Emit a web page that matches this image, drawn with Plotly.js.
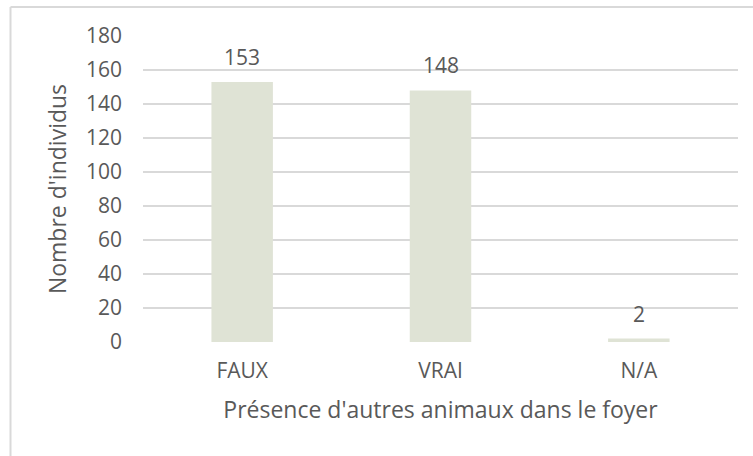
<!DOCTYPE html>
<html>
<head>
<meta charset="utf-8">
<script src="https://cdn.plot.ly/plotly-3.0.1.min.js"></script>
<style>
  html, body { margin: 0; padding: 0; background: #fff; }
  #chart { width: 753px; height: 456px; }
</style>
</head>
<body>
<div id="chart"></div>
<script>
const categories = ["FAUX", "VRAI", "N/A"];
const values = [153, 148, 2];
const yTickValues = [0, 20, 40, 60, 80, 100, 120, 140, 160, 180];

const textColor = "#595959";
const fontFamily = "Open Sans, Lato, sans-serif";

const trace = {
  type: "bar",
  x: categories,
  y: values,
  marker: { color: "#dfe3d5" },
  hoverinfo: "x+y"
};

const annotations = categories.map((c, i) => ({
  x: c,
  y: values[i],
  xref: "x",
  yref: "y",
  text: String(values[i]),
  showarrow: false,
  yanchor: "bottom",
  yshift: 9,
  font: { family: fontFamily, size: 21, color: textColor }
}));

const layout = {
  width: 753,
  height: 456,
  margin: { l: 143, r: 15, t: 36, b: 114 },
  paper_bgcolor: "#ffffff",
  plot_bgcolor: "#ffffff",
  showlegend: false,
  bargap: 0.69,
  font: { family: fontFamily, size: 21, color: textColor },
  xaxis: {
    type: "category",
    showgrid: false,
    showline: false,
    zeroline: false,
    ticks: "",
    ticklabelstandoff: 14,
    tickfont: { family: fontFamily, size: 21, color: textColor },
    title: {
      text: "Présence d'autres animaux dans le foyer",
      font: { family: fontFamily, size: 23, color: textColor },
      standoff: 18
    },
    automargin: false
  },
  yaxis: {
    range: [0, 180],
    tickvals: yTickValues,
    showgrid: true,
    gridcolor: "#d9d9d9",
    gridwidth: 1.5,
    zeroline: false,
    showline: false,
    ticks: "",
    ticklabelstandoff: 20,
    tickfont: { family: fontFamily, size: 21, color: textColor },
    title: {
      text: "Nombre d'individus",
      font: { family: fontFamily, size: 23, color: textColor },
      standoff: 12
    },
    automargin: false
  },
  annotations: annotations,
  shapes: [
    { type: "line", xref: "paper", yref: "paper",
      x0: -0.2227, x1: -0.2227, y0: 1.0948, y1: -0.45,
      line: { color: "#d9d9d9", width: 2 }, layer: "below" },
    { type: "line", xref: "paper", yref: "paper",
      x0: -0.2227, x1: 1.05, y0: 1.0948, y1: 1.0948,
      line: { color: "#d9d9d9", width: 2 }, layer: "below" }
  ]
};

Plotly.newPlot("chart", [trace], layout, { displayModeBar: false, staticPlot: true });
</script>
</body>
</html>
